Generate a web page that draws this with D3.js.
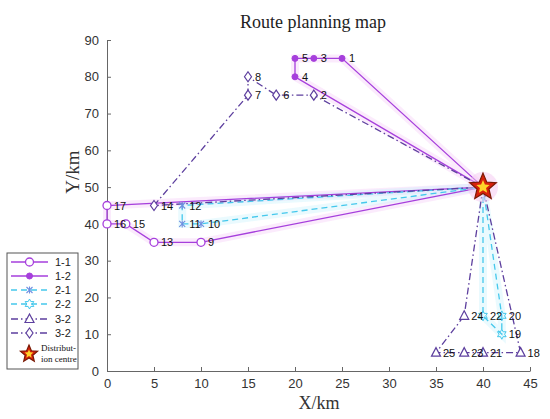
<!DOCTYPE html>
<meta charset="utf-8">
<style>
body { margin: 0; background: #fff; }
.tick text { font: 13px "Liberation Sans", Arial, sans-serif; fill: #333; }
.node-label { font: 11px "Liberation Sans", Arial, sans-serif; fill: #111; }
.serif { font-family: "Liberation Serif", "Times New Roman", serif; fill: #333; }
</style>
<script src="https://d3js.org/d3.v7.min.js"></script>
<body>
<svg width="550" height="419"></svg>
<script>

// node coordinates (km)
var nodeIds = [1, 2, 3, 4, 5, 6, 7, 8, 9, 10, 11, 12, 13, 14, 15, 16, 17, 18, 19, 20, 21, 22, 23, 24, 25];
var nodeX   = [25, 22, 22, 20, 20, 18, 15, 15, 10, 10, 8, 8, 5, 5, 2, 0, 0, 44, 42, 42, 40, 40, 38, 38, 35];
var nodeY   = [85, 75, 85, 80, 85, 75, 75, 80, 35, 40, 40, 45, 35, 45, 40, 40, 45, 5, 10, 15, 5, 15, 5, 15, 5];
var centre  = [40, 50];

// routes (0 = distribution centre)
var routeNames = ["1-1", "1-2", "2-1", "2-2", "3-2", "3-2"];
var routeStops = [
  [0, 9, 13, 15, 16, 17, 0],
  [0, 1, 3, 5, 4, 0],
  [0, 12, 11, 10, 0],
  [0, 22, 19, 20, 0],
  [0, 24, 25, 23, 21, 18, 0],
  [0, 2, 6, 8, 7, 14, 0]
];
var routeColors = ["#a63fdc", "#a63fdc", "#45c8ec", "#45c8ec", "#5d3f9e", "#5d3f9e"];
var routeDash   = [null, null, "6,4", "6,4", "7,3,1.5,3", "7,3,1.5,3"];
var routeMarker = ["circle", "dot", "asterisk", "hexagram", "triangle", "diamond"];

var svg = d3.select("svg");

var x = d3.scaleLinear().domain([0, 45]).range([107, 530]);
var y = d3.scaleLinear().domain([0, 90]).range([371, 40]);

function pos(id) {
  if (id === 0) return centre;
  var i = nodeIds.indexOf(id);
  return [nodeX[i], nodeY[i]];
}

// axes
var xAxis = svg.append("g")
    .attr("transform", "translate(0,371)")
    .call(d3.axisBottom(x).tickValues(d3.range(0, 46, 5)).tickSizeInner(-4).tickSizeOuter(0).tickPadding(8));
var yAxis = svg.append("g")
    .attr("transform", "translate(107,0)")
    .call(d3.axisLeft(y).tickValues(d3.range(0, 91, 10)).tickSizeInner(-4).tickSizeOuter(0).tickPadding(8));
svg.selectAll(".domain, .tick line").attr("stroke", "#666");

svg.append("text").attr("class", "serif")
    .attr("x", 313).attr("y", 28).attr("text-anchor", "middle")
    .style("font-size", "18px").style("fill", "#222")
    .text("Route planning map");
svg.append("text").attr("class", "serif")
    .attr("x", 319).attr("y", 409).attr("text-anchor", "middle")
    .style("font-size", "18px")
    .text("X/km");
svg.append("text").attr("class", "serif")
    .attr("transform", "translate(79,172) rotate(-90)").attr("text-anchor", "middle")
    .style("font-size", "19px")
    .text("Y/km");

// marker drawing
function hexagram(r) {
  var p = [];
  for (var k = 0; k < 12; k++) {
    var a = Math.PI / 6 * k - Math.PI / 2, rr = k % 2 ? r * 0.55 : r;
    p.push([rr * Math.cos(a), rr * Math.sin(a)]);
  }
  return "M" + p.join("L") + "Z";
}

function drawMarker(g, type, color) {
  if (type === "circle") {
    g.append("circle").attr("r", 4).attr("fill", "#fff").attr("stroke", color).attr("stroke-width", 1.3);
  } else if (type === "dot") {
    g.append("circle").attr("r", 3).attr("fill", color).attr("stroke", color);
  } else if (type === "asterisk") {
    g.append("path").attr("d", "M-3,-3L3,3M-3,3L3,-3M0,-3.5L0,3.5")
        .attr("stroke", "#6f8fe0").attr("stroke-width", 1.1);
  } else if (type === "hexagram") {
    g.append("path").attr("d", hexagram(5)).attr("fill", "none").attr("stroke", color).attr("stroke-width", 1);
  } else if (type === "triangle") {
    g.append("path").attr("d", "M0,-5L4.5,3.5L-4.5,3.5Z").attr("fill", "#fff").attr("stroke", color).attr("stroke-width", 1.2);
  } else if (type === "diamond") {
    g.append("path").attr("d", "M0,-5L3.5,0L0,5L-3.5,0Z").attr("fill", "#fff").attr("stroke", color).attr("stroke-width", 1.2);
  }
}

function starPath(R, r) {
  var p = [];
  for (var k = 0; k < 10; k++) {
    var a = Math.PI / 5 * k - Math.PI / 2, rr = k % 2 ? r : R;
    p.push([rr * Math.cos(a), rr * Math.sin(a)]);
  }
  return "M" + p.join("L") + "Z";
}

function drawStar(g, R) {
  g.append("path").attr("d", starPath(R, R * 0.45)).attr("fill", "#d8200c").attr("stroke", "#7a1a05").attr("stroke-width", 1.2);
  g.append("path").attr("d", starPath(R * 0.5, R * 0.23)).attr("fill", "#ffd42a");
}

var line = d3.line().x(function(d) { return x(d[0]); }).y(function(d) { return y(d[1]); });

// soft halo behind routes
routeStops.forEach(function(stops, i) {
  if (i > 3) return;
  svg.append("path")
      .attr("d", line(stops.map(pos)))
      .attr("fill", "none")
      .attr("stroke", i < 2 ? "#f3c6f7" : "#c4f1fb")
      .attr("stroke-width", 8)
      .attr("stroke-opacity", 0.35);
});

// route lines
routeStops.forEach(function(stops, i) {
  svg.append("path")
      .attr("d", line(stops.map(pos)))
      .attr("fill", "none")
      .attr("stroke", routeColors[i])
      .attr("stroke-width", 1.3)
      .attr("stroke-dasharray", routeDash[i]);
});

// markers
routeStops.forEach(function(stops, i) {
  stops.filter(function(s) { return s !== 0; }).forEach(function(s) {
    var p = pos(s);
    var g = svg.append("g").attr("transform", "translate(" + x(p[0]) + "," + y(p[1]) + ")");
    drawMarker(g, routeMarker[i], routeColors[i]);
  });
});

// node labels
svg.selectAll(".node-label")
  .data(nodeIds)
  .enter().append("text")
    .attr("class", "node-label")
    .attr("x", function(d, i) { return x(nodeX[i]) + 7; })
    .attr("y", function(d, i) { return y(nodeY[i]) + 4; })
    .text(function(d) { return d; });

// distribution centre
var sc = svg.append("g").attr("transform", "translate(" + x(centre[0]) + "," + y(centre[1]) + ")");
sc.append("circle").attr("r", 15).attr("fill", "#f6c8f2").attr("opacity", 0.5);
drawStar(sc, 14);

// legend
var legend = svg.append("g");
legend.append("rect")
    .attr("x", 7).attr("y", 253).attr("width", 71).attr("height", 116)
    .attr("fill", "#fff").attr("stroke", "#555").attr("stroke-width", 1);

var legendY = [262, 276, 290, 304, 319, 333];
routeNames.forEach(function(name, i) {
  var ly = legendY[i];
  legend.append("line")
      .attr("x1", 11).attr("x2", 48).attr("y1", ly).attr("y2", ly)
      .attr("stroke", routeColors[i]).attr("stroke-width", 1.3)
      .attr("stroke-dasharray", routeDash[i]);
  var g = legend.append("g").attr("transform", "translate(29.5," + ly + ")");
  drawMarker(g, routeMarker[i], routeColors[i]);
  legend.append("text")
      .attr("x", 55).attr("y", ly + 4)
      .style("font", "11px 'Liberation Sans', Arial, sans-serif").style("fill", "#222")
      .text(name);
});
var ls = legend.append("g").attr("transform", "translate(29,354)");
drawStar(ls, 9);
legend.append("text").attr("class", "serif")
    .attr("x", 41).attr("y", 351).style("font-size", "9px").style("fill", "#111")
    .text("Distribut-");
legend.append("text").attr("class", "serif")
    .attr("x", 41).attr("y", 362).style("font-size", "9px").style("fill", "#111")
    .text("ion centre");

</script>
</body>
